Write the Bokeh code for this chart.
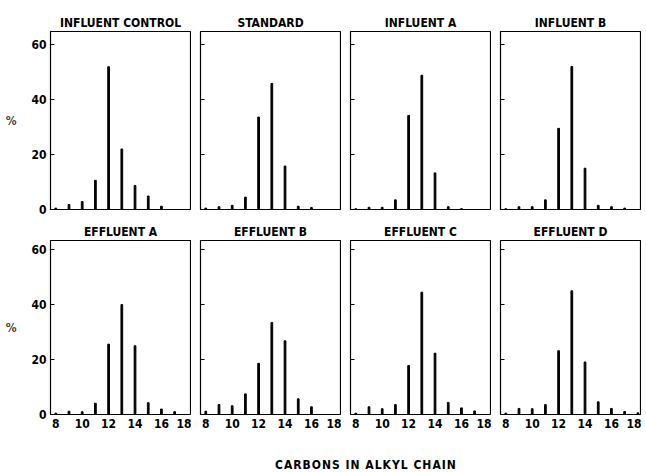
from bokeh.plotting import figure
from bokeh.layouts import row, column
from bokeh.models import Div, FixedTicker, Range1d
from bokeh.embed import file_html
from bokeh.resources import INLINE

carbons = [8, 9, 10, 11, 12, 13, 14, 15, 16, 17, 18]

influent_control = [0.5, 1.8, 2.9, 10.6, 51.9, 22.0, 8.7, 4.9, 1.2, 0.0, 0.0]
standard = [0.5, 1.0, 1.5, 4.5, 33.6, 45.8, 15.8, 1.2, 0.7, 0.0, 0.0]
influent_a = [0.3, 0.8, 0.8, 3.5, 34.2, 48.8, 13.3, 1.0, 0.3, 0.0, 0.0]
influent_b = [0.3, 1.0, 1.0, 3.5, 29.5, 52.0, 15.0, 1.5, 1.0, 0.5, 0.0]
effluent_a = [0.5, 1.2, 1.0, 4.1, 25.6, 40.0, 25.0, 4.3, 2.0, 1.0, 0.0]
effluent_b = [1.2, 3.6, 3.2, 7.5, 18.6, 33.5, 26.8, 5.7, 2.8, 0.0, 0.0]
effluent_c = [0.5, 2.8, 2.1, 3.6, 17.8, 44.5, 22.3, 4.4, 2.4, 1.3, 0.0]
effluent_d = [0.5, 2.2, 2.1, 3.6, 23.2, 45.0, 19.1, 4.6, 2.2, 1.1, 0.6]

titles_top = ["INFLUENT CONTROL", "STANDARD", "INFLUENT A", "INFLUENT B"]
titles_bottom = ["EFFLUENT A", "EFFLUENT B", "EFFLUENT C", "EFFLUENT D"]
series_top = [influent_control, standard, influent_a, influent_b]
series_bottom = [effluent_a, effluent_b, effluent_c, effluent_d]

y_ticks = [0, 20, 40, 60]
x_ticks = [8, 10, 12, 14, 16, 18]
y_label = "%"
x_label = "CARBONS IN ALKYL CHAIN"

FONT = "'DejaVu Sans Condensed', 'DejaVu Sans', sans-serif"


def panel(title, values, col, bottom_row):
    fh = 174 if bottom_row else 178
    ytop = 63.3 if bottom_row else 64.7
    p = figure(
        frame_width=140, frame_height=fh,
        x_range=Range1d(7.6, 18.2), y_range=Range1d(0, ytop),
        output_backend="svg", toolbar_location=None,
        min_border_left=50 if col == 0 else 9,
        min_border_right=1,
        min_border_top=22 if bottom_row else 31,
        min_border_bottom=22 if bottom_row else 9,
        title=title,
    )
    p.title.align = "center"
    p.title.text_font = FONT
    p.title.text_font_size = "12px"
    p.title.text_font_style = "bold"
    p.title.text_color = "black"
    p.title.standoff = 4
    p.grid.visible = False
    p.outline_line_color = "black"
    p.outline_line_width = 1.2
    p.outline_line_alpha = 1
    p.background_fill_color = "white"
    p.border_fill_color = "white"

    p.vbar(x=carbons, top=values, width=0.13, color="black")

    ya = p.yaxis[0]
    ya.axis_line_color = None
    ya.major_tick_out = 0
    ya.minor_tick_out = 0
    ya.major_tick_line_color = "black"
    ya.minor_tick_line_color = "black"
    if col == 0:
        ya.ticker = FixedTicker(ticks=y_ticks)
        ya.major_tick_in = 4
        ya.minor_tick_in = 0
        ya.major_label_text_font = FONT
        ya.major_label_text_font_size = "12px"
        ya.major_label_text_font_style = "bold"
        ya.major_label_text_color = "black"
        ya.major_label_standoff = 4
        ya.axis_label = y_label
        ya.axis_label_text_font = FONT
        ya.axis_label_text_font_size = "12px"
        ya.axis_label_text_font_style = "bold"
        ya.axis_label_standoff = 12
        try:
            ya.axis_label_orientation = "horizontal"
        except Exception:
            pass
    else:
        # tick marks only, no labels: use minor ticks
        ya.ticker = FixedTicker(ticks=[], minor_ticks=y_ticks)
        ya.major_tick_in = 0
        ya.minor_tick_in = 4
        ya.minor_tick_line_width = 1

    xa = p.xaxis[0]
    if bottom_row:
        xa.ticker = FixedTicker(ticks=x_ticks)
        xa.axis_line_color = None
        xa.major_tick_in = 0
        xa.major_tick_out = 0
        xa.minor_tick_in = 0
        xa.minor_tick_out = 0
        xa.major_label_text_font = FONT
        xa.major_label_text_font_size = "12px"
        xa.major_label_text_font_style = "bold"
        xa.major_label_text_color = "black"
        xa.major_label_standoff = 4
    else:
        xa.visible = False
    return p


top = [panel(t, v, i, False) for i, (t, v) in enumerate(zip(titles_top, series_top))]
bot = [panel(t, v, i, True) for i, (t, v) in enumerate(zip(titles_bottom, series_bottom))]

xlabel = Div(
    text=x_label, width=300, margin=(21, 0, 0, 275),
    styles={"font-family": FONT, "font-size": "12px", "font-weight": "bold",
            "letter-spacing": "1px", "color": "black"},
)

layout = column(row(*top), row(*bot), xlabel)

open("out.html", "w").write(file_html(layout, INLINE))
